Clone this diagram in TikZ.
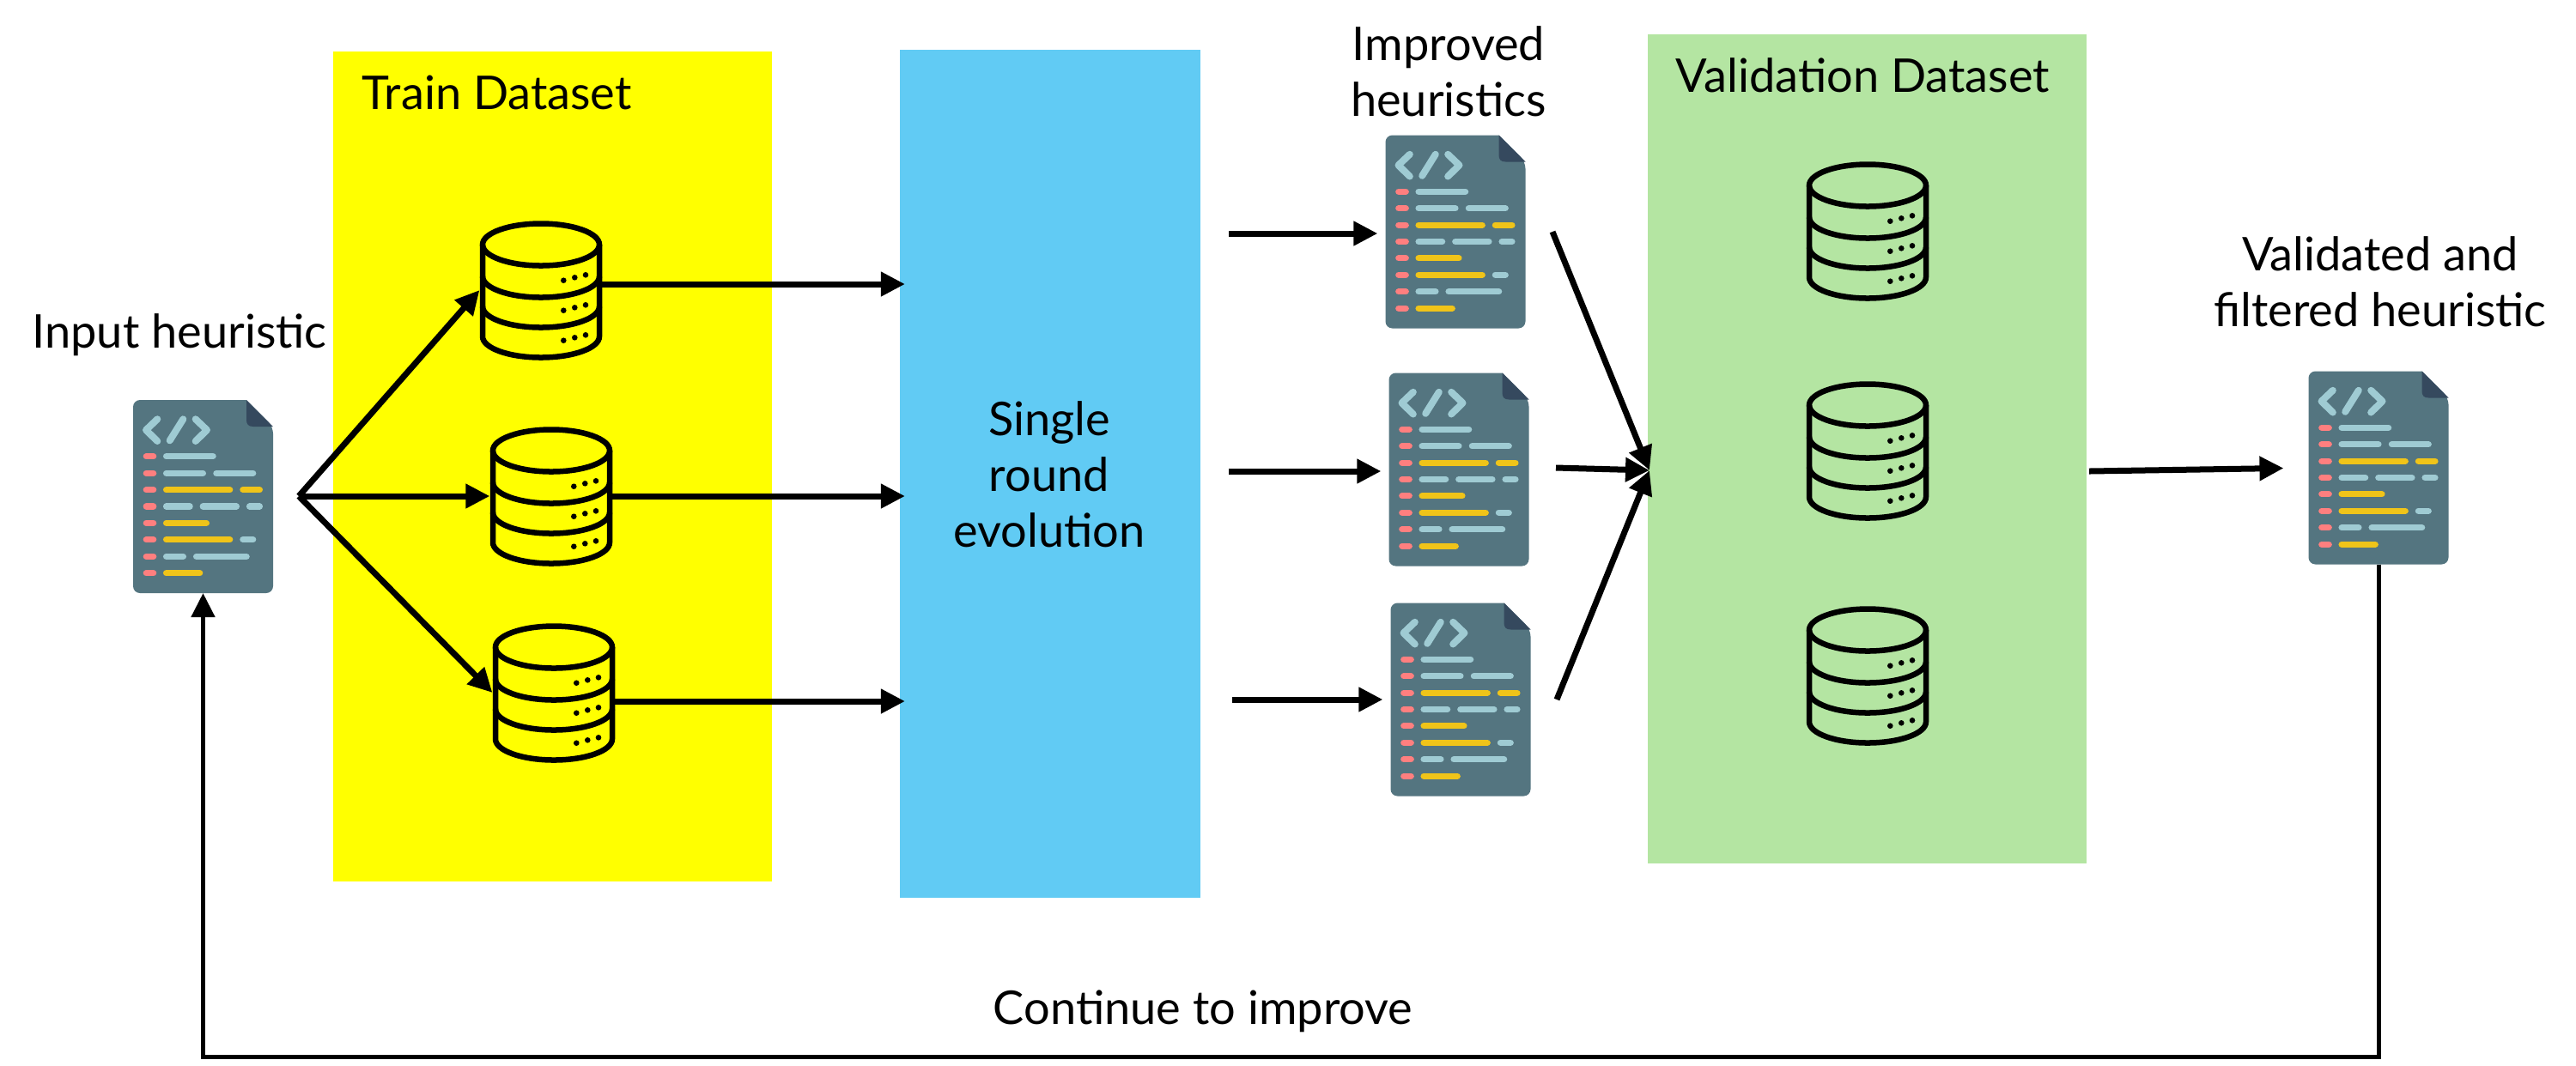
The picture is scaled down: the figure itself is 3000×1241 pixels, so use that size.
\documentclass[tikz,border=0pt]{standalone}
\usepackage{fontspec}
\setmainfont{Lato}
\usepackage{xcolor}
\usetikzlibrary{arrows.meta}
\definecolor{TrainYellow}{RGB}{255,255,0}
\definecolor{RoundBlue}{RGB}{97,203,244}
\definecolor{ValidGreen}{RGB}{180,229,162}
\definecolor{CodeBody}{RGB}{84,117,128}
\definecolor{CodeFold}{RGB}{53,73,94}
\definecolor{CodeLight}{RGB}{159,203,211}
\definecolor{CodeRed}{RGB}{255,127,127}
\definecolor{CodeGold}{RGB}{240,196,25}
\tikzset{
  flow/.style={-{Triangle[length=.28cm,width=.27cm]},black,line width=.07cm},
  iconbox/.style={inner sep=0pt,outer sep=0pt,minimum width=1.63cm,minimum height=2.25cm},
  dbbox/.style={inner sep=0pt,outer sep=0pt,minimum width=1.43cm,minimum height=1.61cm},
  label/.style={font=\fontsize{15.4}{18.5}\selectfont,align=center,inner sep=0pt},
  codebar/.style={line cap=round,line width=.073cm,shorten >=.036cm,shorten <=.036cm},
  codeicon/.pic={
    \begin{scope}[shift={(-81.5,-112.5)}]
      \fill[CodeBody,rounded corners=.08cm] (132,0) -- (0,0) -- (0,225) -- (163,225) -- (163,31) [sharp corners] -- (132,0) -- cycle;
      \fill[CodeFold] (132,0) -- (163,31) -- (140,31) .. controls (134,31) and (132,28) .. (132,23) -- cycle;
      % tag brackets
      \draw[CodeLight,line width=.08cm,line cap=round,line join=round] (28.3,22.3) -- (15,35) -- (28.3,48);
      \draw[CodeLight,line width=.08cm,line cap=round] (58.3,22.3) -- (42.7,47.3);
      \draw[CodeLight,line width=.08cm,line cap=round,line join=round] (72.7,22.3) -- (86,35) -- (72.7,48);
      % code lines
      \foreach \y in {65.7,85.3,104.7,124,143.3,162.7,182.3,201.7}
        \draw[codebar,CodeRed] (11.7,\y) -- (27.3,\y);
      \foreach \y/\a/\b/\c in {
        65.7/35/96.7/CodeLight,
        85.3/35/85/CodeLight, 85.3/93.3/143.3/CodeLight,
        104.7/35/116.3/CodeGold, 104.7/124.3/151/CodeGold,
        124/35/69.7/CodeLight, 124/77.7/124/CodeLight, 124/132/151/CodeLight,
        143.3/35/89/CodeGold,
        162.7/35/116.3/CodeGold, 162.7/124.3/143.3/CodeLight,
        182.3/35/62/CodeLight, 182.3/70/135.7/CodeLight,
        201.7/35/81.3/CodeGold%
      }{
        \draw[codebar,\c] (\a,\y) -- (\b,\y);
      }
    \end{scope}
  },
  dbicon/.pic={
    \draw[black,line width=.065cm] (-68,-53) -- (-68,54) arc[start angle=180,end angle=0,x radius=68,y radius=24.5] -- (68,-53);
    \draw[black,line width=.065cm] (0,-53) ellipse [x radius=68,y radius=24.5];
    \foreach \y in {-16,19}
      \draw[black,line width=.065cm] (-68,\y) arc[start angle=180,end angle=0,x radius=68,y radius=24.5];
    % status dots
    \foreach \y in {-11.3,23.7,58.7}{
      \fill[black] (26.3,\y) circle (3.3);
      \fill[black] (39.3,\y-3.4) circle (3.3);
      \fill[black] (52,\y-6.4) circle (3.3);
    }
  }
}
\begin{document}
\begin{tikzpicture}[x=0.01cm,y=-0.01cm]
  \useasboundingbox (0,0) rectangle (3000,1241);

  % Panels
  \fill[TrainYellow] (388,60) rectangle (899,1027);
  \fill[RoundBlue] (1048,58) rectangle (1398,1046);
  \fill[ValidGreen] (1919,40) rectangle (2430,1006);

  % Code icons
  \foreach \name/\x/\y in {input/236.5/578.5,impa/1695/270,impb/1699/547,impc/1701/815,output/2770/545}{
    \node[iconbox] (\name) at (\x,\y) {};
    \pic at (\name) {codeicon};
  }
  % Databases
  \foreach \name/\x/\y in {dba/630/338,dbb/642/578,dbc/645/807,dbd/2175/269,dbe/2175/525,dbf/2175/787}{
    \node[dbbox] (\name) at (\x,\y) {};
    \pic at (\name) {dbicon};
  }

  % Texts
  \node[label,anchor=base west] (traintxt) at (421,127) {Train Dataset};
  \node[label,anchor=base west] (validtxt) at (1951,107) {Validation Dataset};
  \node[label,anchor=base] (inputtxt) at (209,405) {Input heuristic};
  \node[label] (imptxt) at (1687,83) {Improved\\heuristics};
  \node[label] (outtxt) at (2772,328) {Validated and\\filtered heuristic};
  \node[label] (evotxt) at (1222,553) {Single\\round\\evolution};
  \node[label] (looptxt) at (1401,1178) {Continue to improve};

  % Fan out of the input
  \coordinate (hub) at (348,578);
  \draw[flow] (hub) -- (dba.west);
  \draw[flow] (hub) -- (dbb.west);
  \draw[flow] (hub) -- (dbc.west);

  % Into the evolution round
  \foreach \db/\x/\y in {dba/700/331,dbb/712/578,dbc/714/817}{
    \coordinate (\db out) at (\x,\y);
    \coordinate (\db in) at (1054,\y);
    \draw[flow] (\db out) -- (\db in);
  }

  % Out of the evolution round
  \foreach \icon/\x/\y in {impa/1431/272,impb/1431/549,impc/1435/815}{
    \coordinate (\icon from) at (\x,\y);
    \draw[flow,shorten >=.09cm] (\icon from) -- (\icon.west |- \icon from);
  }

  % Into validation
  \coordinate (gate) at (1921,548);
  \coordinate (vala) at (1808,270);
  \coordinate (valb) at (1812,545);
  \coordinate (valc) at (1813,815);
  \draw[flow] (vala) -- (gate);
  \draw[flow] (valb) -- (gate);
  \draw[flow] (valc) -- (gate);

  % Validated output
  \coordinate (valout) at (2433,549);
  \draw[flow,shorten >=.29cm] (valout) -- (output.west);

  % Feedback loop
  \coordinate (loopr) at (2770,1231);
  \coordinate (loopl) at (236.5,1231);
  \draw[flow,line width=.05cm] (output.south) -- (loopr) -- (loopl) -- (input.south);
\end{tikzpicture}
\end{document}
